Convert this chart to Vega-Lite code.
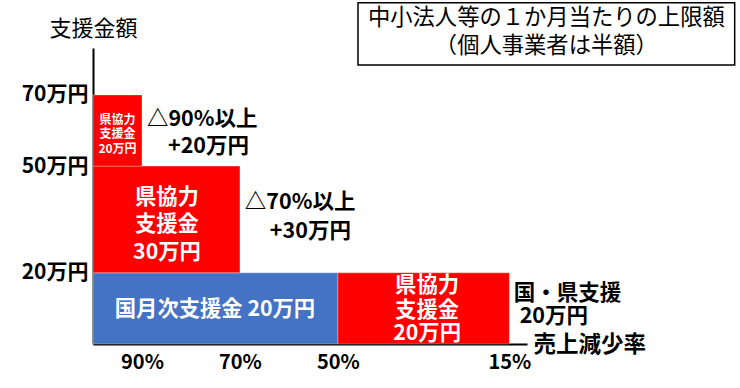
{
  "$schema": "https://vega.github.io/schema/vega-lite/v6.json",
  "autosize": {"type": "none"},
  "padding": {"left": 93, "top": 48, "right": 213, "bottom": 44},
  "width": 434,
  "height": 296,
  "background": "white",
  "config": {
    "view": {"stroke": null},
    "font": "Noto Sans CJK JP",
    "text": {"font": "Noto Sans CJK JP"}
  },
  "datasets": {
    "bars": [
      {"from": 100, "to": 50, "low": 0, "high": 20, "kind": "国"},
      {"from": 50, "to": 15, "low": 0, "high": 20, "kind": "県"},
      {"from": 100, "to": 70, "low": 20, "high": 50, "kind": "県"},
      {"from": 100, "to": 90, "low": 50, "high": 70, "kind": "県"}
    ],
    "box": [{"x1": 45.9, "x2": -31.0, "y1": 78.4, "y2": 95.9}],
    "boxText": [
      {"x": 7.45, "y": 91.9, "t": "中小法人等の１か月当たりの上限額"},
      {"x": 7.45, "y": 84.1, "t": "（個人事業者は半額）"}
    ],
    "smallIn": [
      {"x": 95, "y": 63.5, "t": "県協力"},
      {"x": 95, "y": 59.6, "t": "支援金"},
      {"x": 95, "y": 55.4, "t": "20万円"}
    ],
    "bigIn": [
      {"x": 84.9, "y": 41.9, "t": "県協力"},
      {"x": 84.9, "y": 34.3, "t": "支援金"},
      {"x": 84.9, "y": 26.4, "t": "30万円"},
      {"x": 31.8, "y": 17.1, "t": "県協力"},
      {"x": 31.8, "y": 10.1, "t": "支援金"},
      {"x": 31.8, "y": 3.65, "t": "20万円"},
      {"x": 75.1, "y": 10.4, "t": "国月次支援金 20万円"}
    ],
    "notes": [
      {"x": 89.0, "y": 63.8, "t": "△90%以上"},
      {"x": 84.7, "y": 56.2, "t": "+20万円"},
      {"x": 69.0, "y": 40.5, "t": "△70%以上"},
      {"x": 63.9, "y": 32.3, "t": "+30万円"},
      {"x": 14.1, "y": 14.9, "t": "国・県支援"},
      {"x": 12.9, "y": 8.4, "t": "20万円"}
    ]
  },
  "layer": [
    {
      "data": {"name": "bars"},
      "mark": {"type": "rect", "stroke": "#ffffff", "strokeWidth": 0.6, "strokeOpacity": 0.5},
      "encoding": {
        "x": {
          "field": "from", "type": "quantitative",
          "scale": {"domain": [11.4, 100], "reverse": true, "nice": false, "zero": false},
          "axis": {
            "values": [90, 70, 50, 15],
            "labelExpr": "datum.value + '%'",
            "labelFontSize": 20, "labelFontWeight": "bold", "labelColor": "#000",
            "labelPadding": 8, "labelFont": "Noto Sans CJK JP",
            "ticks": false, "grid": false,
            "domainColor": "#000", "domainWidth": 2,
            "title": "売上減少率",
            "titleFont": "Noto Sans CJK JP", "titleFontSize": 22.5, "titleFontWeight": "bold",
            "titleColor": "#000",
            "titleX": 440, "titleY": 0, "titleAlign": "left", "titleBaseline": "middle", "titleAngle": 0
          }
        },
        "x2": {"field": "to"},
        "y": {
          "field": "low", "type": "quantitative",
          "scale": {"domain": [0, 83.2], "nice": false},
          "axis": {
            "values": [20, 50, 70],
            "labelExpr": "datum.value + '万円'",
            "labelFontSize": 21, "labelFontWeight": "bold", "labelColor": "#000",
            "labelPadding": 5, "labelFont": "Noto Sans CJK JP",
            "ticks": false, "grid": false,
            "domainColor": "#000", "domainWidth": 2,
            "title": "支援金額",
            "titleFont": "Noto Sans CJK JP", "titleFontSize": 22, "titleFontWeight": "normal",
            "titleColor": "#000",
            "titleAngle": 0, "titleX": 0, "titleY": -20, "titleAlign": "center", "titleBaseline": "middle"
          }
        },
        "y2": {"field": "high"},
        "color": {
          "field": "kind", "type": "nominal",
          "scale": {"domain": ["国", "県"], "range": ["#4472C4", "#FF0000"]},
          "legend": null
        }
      }
    },
    {
      "data": {"name": "box"},
      "mark": {"type": "rect", "fill": "white", "stroke": "#000", "strokeWidth": 1.5},
      "encoding": {
        "x": {"field": "x1", "type": "quantitative"},
        "x2": {"field": "x2"},
        "y": {"field": "y1", "type": "quantitative"},
        "y2": {"field": "y2"}
      }
    },
    {
      "data": {"name": "boxText"},
      "mark": {"type": "text", "fontSize": 22.3, "fontWeight": "normal", "color": "#000", "align": "center", "baseline": "middle", "dy": 1},
      "encoding": {
        "x": {"field": "x", "type": "quantitative"},
        "y": {"field": "y", "type": "quantitative"},
        "text": {"field": "t"}
      }
    },
    {
      "data": {"name": "smallIn"},
      "mark": {"type": "text", "fontSize": 12, "fontWeight": "bold", "color": "#fff", "align": "center", "baseline": "middle", "dy": 2},
      "encoding": {
        "x": {"field": "x", "type": "quantitative"},
        "y": {"field": "y", "type": "quantitative"},
        "text": {"field": "t"}
      }
    },
    {
      "data": {"name": "bigIn"},
      "mark": {"type": "text", "fontSize": 21.3, "fontWeight": "bold", "color": "#fff", "align": "center", "baseline": "middle", "dy": 3},
      "encoding": {
        "x": {"field": "x", "type": "quantitative"},
        "y": {"field": "y", "type": "quantitative"},
        "text": {"field": "t"}
      }
    },
    {
      "data": {"name": "notes"},
      "mark": {"type": "text", "fontSize": 21.5, "fontWeight": "bold", "color": "#000", "align": "left", "baseline": "middle", "dy": 3},
      "encoding": {
        "x": {"field": "x", "type": "quantitative"},
        "y": {"field": "y", "type": "quantitative"},
        "text": {"field": "t"}
      }
    }
  ]
}
